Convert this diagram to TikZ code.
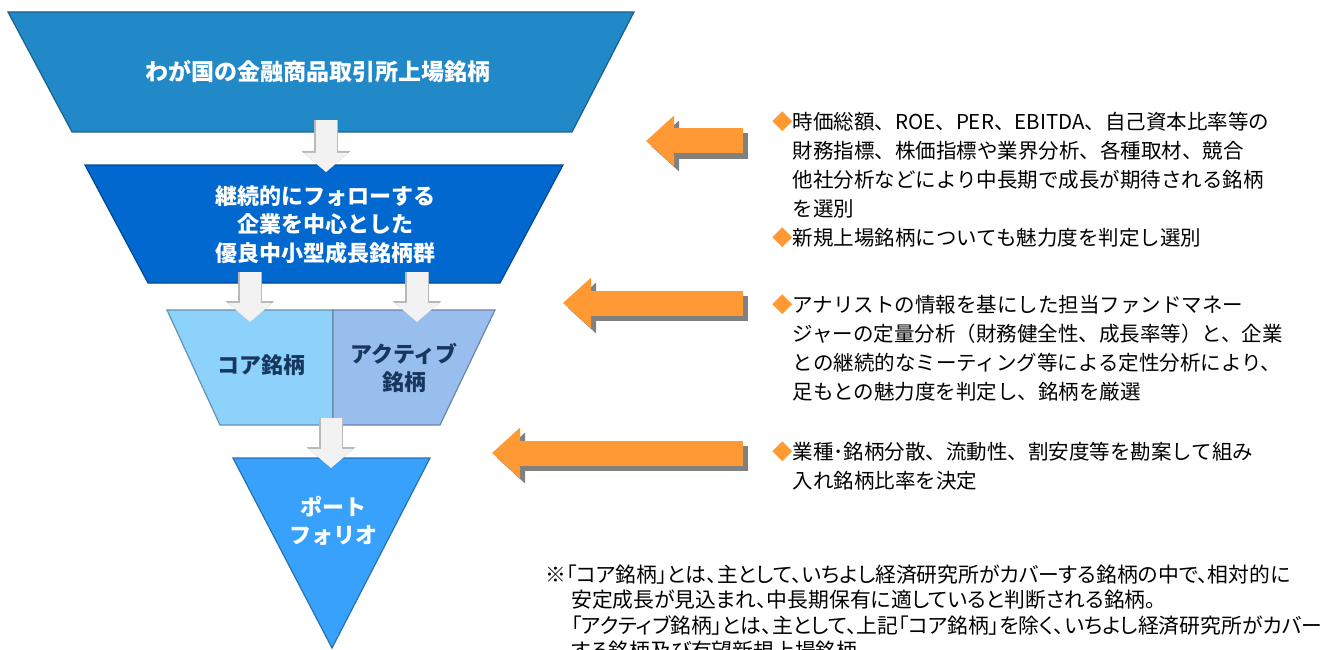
\documentclass[tikz,border=0pt]{standalone}
\usepackage{fontspec}
\setmainfont{Noto Sans CJK JP}
\newfontfamily\notefont[RawFeature=+palt]{Noto Sans CJK JP}
\usetikzlibrary{arrows.meta}
\definecolor{listedblue}{RGB}{34,137,201}
\definecolor{universeblue}{RGB}{0,104,206}
\definecolor{coreblue}{RGB}{140,210,250}
\definecolor{activeblue}{RGB}{152,190,238}
\definecolor{folioblue}{RGB}{56,161,252}
\definecolor{navytext}{RGB}{23,55,94}
\definecolor{arroworange}{RGB}{255,153,51}

\begin{document}
\begin{tikzpicture}[x = 1pt, y = -1pt, font = \fontsize{22}{28.5}\selectfont\bfseries,
  funnel/.style = {draw = #1!70!black, line width = 1.2pt, fill = #1},
  whitetext/.style = {text = white, align = center, inner sep = 0pt},
  darktext/.style = {whitetext, text = navytext},
  downarrow/.style = {line width = 21pt, draw = gray!10, -{Triangle[width = 43pt, length = 19pt]},
    preaction = {draw = gray!55, line width = 24pt, -{Triangle[width = 48pt, length = 21pt]}}},
  leftarrow/.style = {line width = 25pt, draw = arroworange, -{Triangle[width = 49pt, length = 28pt]}},
  shadowarrow/.style = {leftarrow, draw = gray, transform canvas = {shift = {(5pt, -5pt)}}},
  bullets/.style = {font = \fontsize{20.5}{29}\selectfont, align = left, anchor = north west, inner sep = 0pt}]
  \useasboundingbox (0,0) rectangle (1341,650);
  \clip (0,0) rectangle (1341,650);

  % funnel
  \path[funnel = listedblue] (8,12) -- (634,12) -- (572,132) -- (72,132) -- cycle;
  \path[funnel = universeblue] (85,165) -- (563,165) -- (500,283) -- (148,283) -- cycle;
  \path[funnel = coreblue] (167,310) -- (333,310) -- (333,425) -- (220,425) -- cycle;
  \path[funnel = activeblue] (333,310) -- (495,310) -- (440,425) -- (333,425) -- cycle;
  \path[funnel = folioblue] (233,458) -- (430,458) -- (332,648) -- cycle;

  \node (listed) [whitetext, font = \fontsize{23}{28}\selectfont\bfseries] at (318,72) {わが国の金融商品取引所上場銘柄};
  \node (universe) [whitetext] at (325,224.5) {継続的にフォローする\\企業を中心とした\\優良中小型成長銘柄群};
  \node (core) [darktext] at (261,365) {コア銘柄};
  \node (active) [darktext] at (404,368) {アクティブ\\銘柄};
  \node (portfolio) [whitetext] at (333,521) {ポート\\フォリオ};

  % white arrows
  \coordinate (listed-out) at (326,120);
  \coordinate (universe-in) at (326,172);
  \coordinate (core-from) at (250,272);
  \coordinate (core-in) at (250,322);
  \coordinate (active-from) at (417,272);
  \coordinate (active-in) at (417,322);
  \coordinate (split-out) at (331,418);
  \coordinate (portfolio-in) at (331,468);
  \draw[downarrow] (listed-out) -- (universe-in);
  \draw[downarrow] (core-from) -- (core-in);
  \draw[downarrow] (active-from) -- (active-in);
  \draw[downarrow] (split-out) -- (portfolio-in);

  % orange arrows
  \coordinate (screening-tail) at (743,141);
  \coordinate (screening-tip) at (646,141);
  \coordinate (selection-tail) at (743,303);
  \coordinate (selection-tip) at (563,303);
  \coordinate (weighting-tail) at (743,453);
  \coordinate (weighting-tip) at (492,453);
  \draw[shadowarrow] (screening-tail) -- (screening-tip);
  \draw[shadowarrow] (selection-tail) -- (selection-tip);
  \draw[shadowarrow] (weighting-tail) -- (weighting-tip);
  \draw[leftarrow] (screening-tail) -- (screening-tip);
  \draw[leftarrow] (selection-tail) -- (selection-tip);
  \draw[leftarrow] (weighting-tail) -- (weighting-tip);

  % descriptions
  \node (screening) [bullets] at (772,112) {\textcolor{arroworange}{◆}時価総額、ROE、PER、EBITDA、自己資本比率等の\\
    \phantom{◆}財務指標、株価指標や業界分析、各種取材、競合\\
    \phantom{◆}他社分析などにより中長期で成長が期待される銘柄\\
    \phantom{◆}を選別\\
    \textcolor{arroworange}{◆}新規上場銘柄についても魅力度を判定し選別};
  \node (selection) [bullets] at (772,295) {\textcolor{arroworange}{◆}アナリストの情報を基にした担当ファンドマネー\\
    \phantom{◆}ジャーの定量分析（財務健全性、成長率等）と、企業\\
    \phantom{◆}との継続的なミーティング等による定性分析により、\\
    \phantom{◆}足もとの魅力度を判定し、銘柄を厳選};
  \node (weighting) [bullets] at (772,442) {\textcolor{arroworange}{◆}業種･銘柄分散、流動性、割安度等を勘案して組み\\
    \phantom{◆}入れ銘柄比率を決定};
  \node (note) [bullets, font = \notefont\fontsize{20.8}{25.5}\selectfont] at (545,564.5) {※「コア銘柄」とは、主として、いちよし経済研究所がカバーする銘柄の中で、相対的に\\
    \hspace*{26pt}安定成長が見込まれ、中長期保有に適していると判断される銘柄。\\
    \hspace*{26pt}「アクティブ銘柄」とは、主として、上記「コア銘柄」を除く、いちよし経済研究所がカバー\\
    \hspace*{26pt}する銘柄及び有望新規上場銘柄};
\end{tikzpicture}
\end{document}
